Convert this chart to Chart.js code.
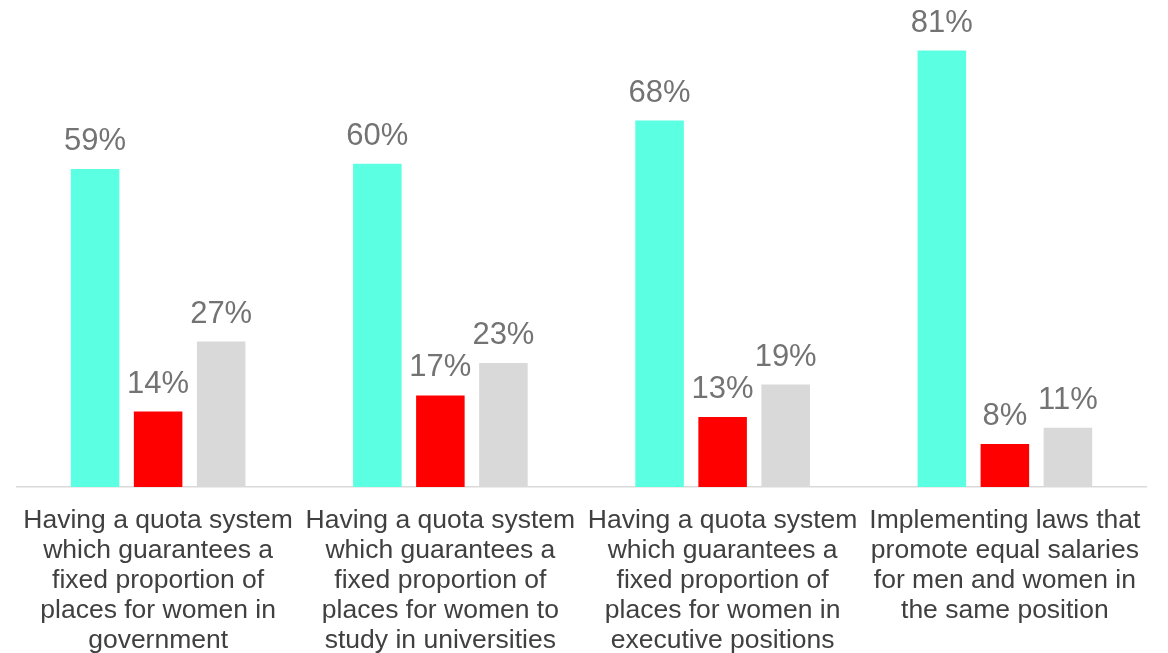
<!DOCTYPE html>
<html>
<head>
<meta charset="utf-8" />
<title>Support for measures</title>
<script src="https://cdn.jsdelivr.net/npm/chart.js@4.4.0/dist/chart.umd.min.js"></script>
<style>
  html, body { margin: 0; padding: 0; background: #fff; }
  #wrap { position: relative; width: 1168px; height: 653px; }
</style>
</head>
<body>
<div id="wrap"><canvas id="myChart"></canvas></div>
<script>
// categories, one line per array entry
var categories = [
  ['Having a quota system', 'which guarantees a', 'fixed proportion of', 'places for women in', 'government'],
  ['Having a quota system', 'which guarantees a', 'fixed proportion of', 'places for women to', 'study in universities'],
  ['Having a quota system', 'which guarantees a', 'fixed proportion of', 'places for women in', 'executive positions'],
  ['Implementing laws that', 'promote equal salaries', 'for men and women in', 'the same position']
];
var seriesA = [59, 60, 68, 81];
var seriesB = [14, 17, 13, 8];
var seriesC = [27, 23, 19, 11];

var FONT = "Arial, 'Liberation Sans', sans-serif";

// puts the value with a % sign above every bar
var valueLabels = {
  id: 'valueLabels',
  afterDatasetsDraw: function(chart) {
    var ctx = chart.ctx;
    ctx.save();
    ctx.font = '31px ' + FONT;
    ctx.fillStyle = '#737373';
    ctx.textAlign = 'center';
    ctx.textBaseline = 'alphabetic';
    chart.data.datasets.forEach(function(ds, i) {
      chart.getDatasetMeta(i).data.forEach(function(bar, j) {
        ctx.fillText(ds.data[j] + '%', bar.x, bar.y - 19);
      });
    });
    ctx.restore();
  }
};

var ctx = document.getElementById('myChart').getContext('2d');
var chart = new Chart(ctx, {
  type: 'bar',
  data: {
    labels: categories,
    datasets: [
      { label: 'Support', data: seriesA, backgroundColor: '#5bffe1' },
      { label: 'Oppose', data: seriesB, backgroundColor: '#ff0000' },
      { label: "Don't know", data: seriesC, backgroundColor: '#d9d9d9' }
    ]
  },
  options: {
    responsive: true,
    maintainAspectRatio: false,
    animation: false,
    layout: { padding: { left: 17, right: 22, top: 2, bottom: 0 } },
    datasets: {
      bar: { barPercentage: 0.77, categoryPercentage: 0.67 }
    },
    plugins: {
      legend: { display: false },
      tooltip: { enabled: false }
    },
    scales: {
      x: {
        grid: { display: false, drawTicks: false },
        border: { display: true, color: '#d9d9d9', width: 1.5 },
        afterFit: function(scale) { scale.height = 166; },
        ticks: {
          color: '#404040',
          padding: 19,
          maxRotation: 0,
          autoSkip: false,
          font: { family: FONT, size: 26.5, lineHeight: 1.132 }
        }
      },
      y: {
        display: false,
        min: 0,
        max: 90
      }
    }
  },
  plugins: [valueLabels]
});
</script>
</body>
</html>
